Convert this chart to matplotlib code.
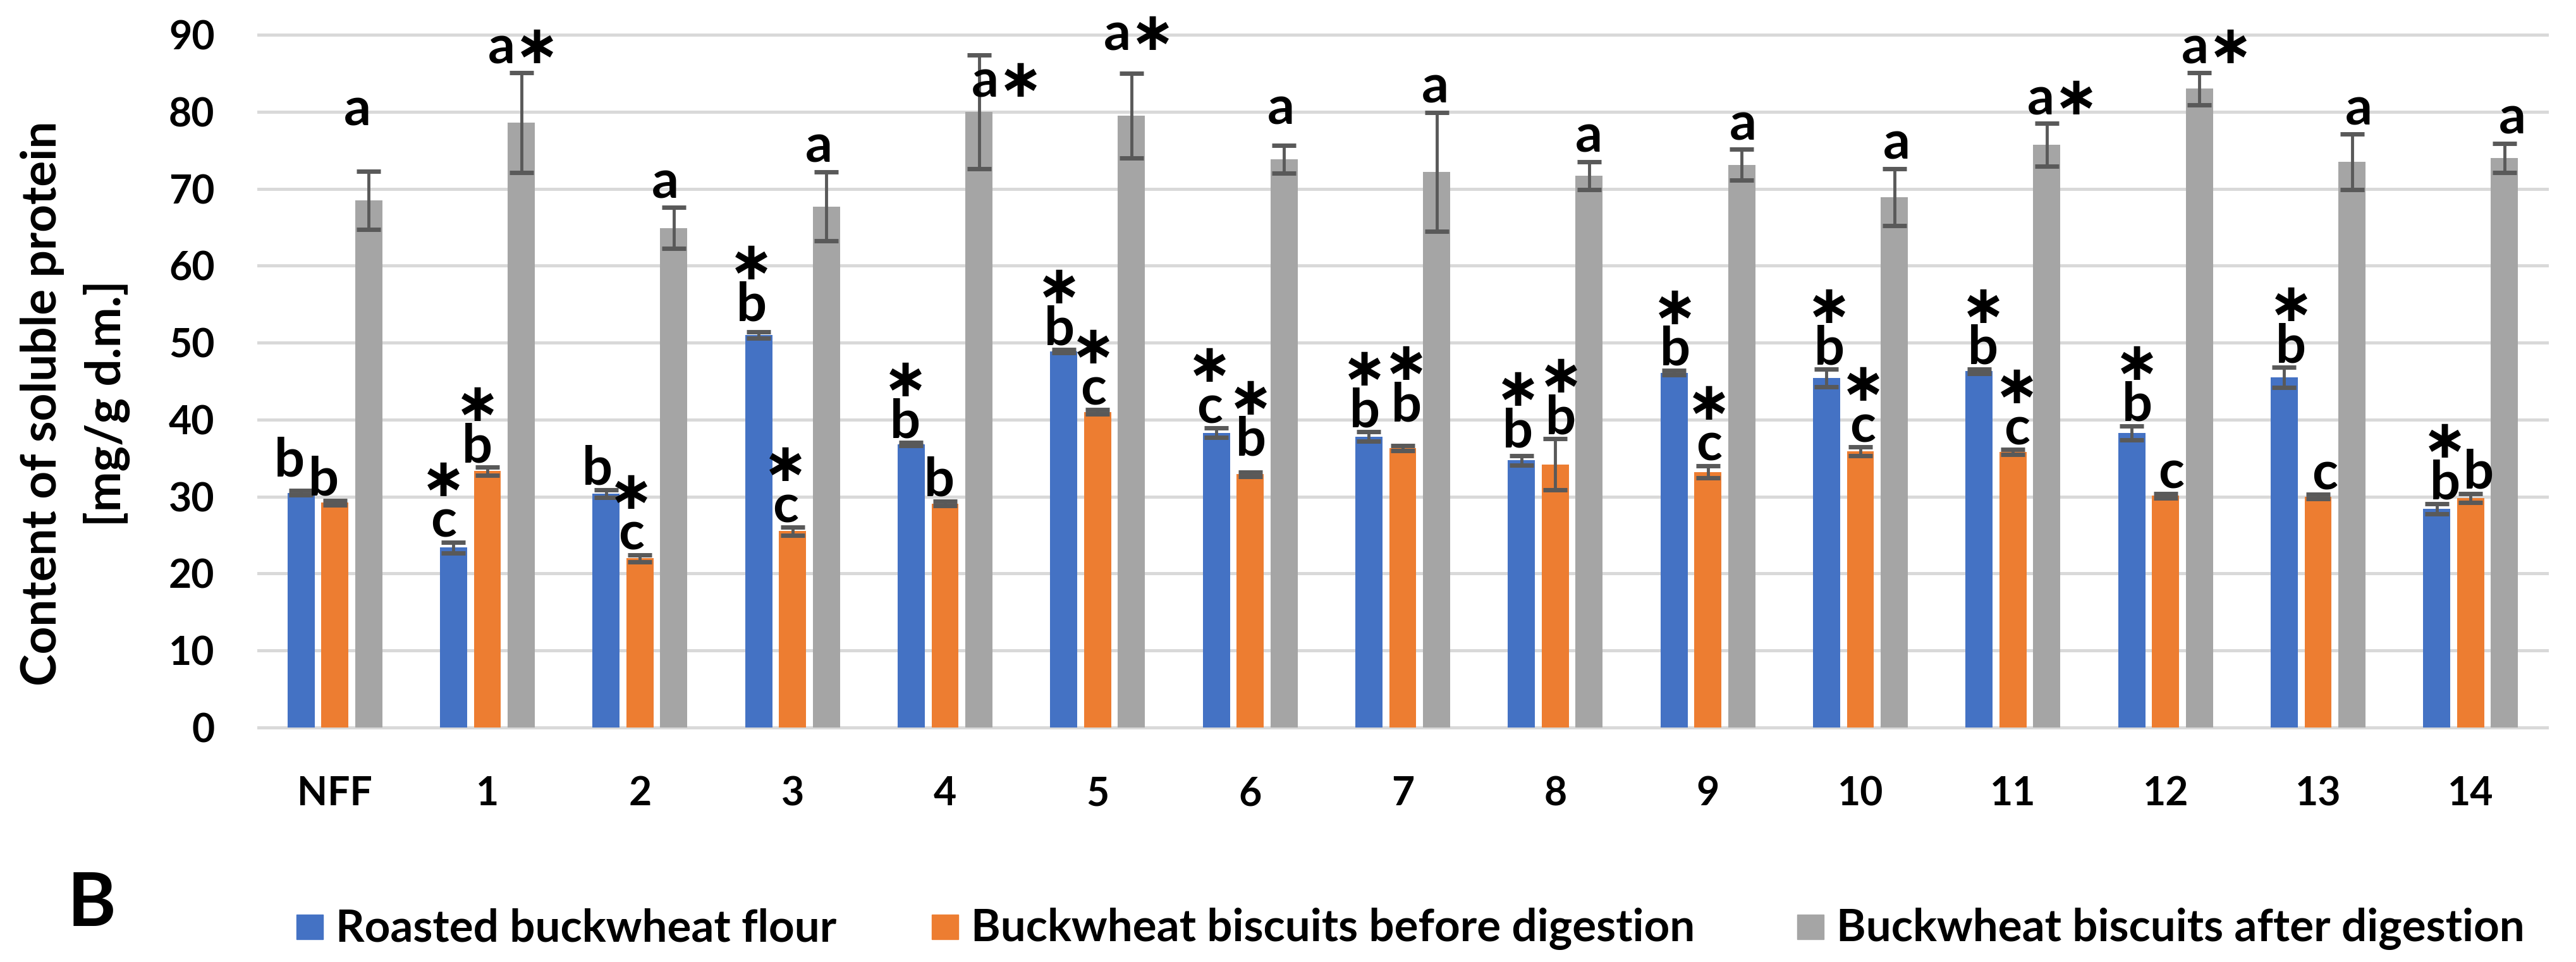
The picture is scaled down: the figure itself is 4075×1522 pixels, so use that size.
import numpy as np
import matplotlib.pyplot as plt
from matplotlib.patches import Rectangle
from matplotlib.font_manager import FontProperties

plt.rcParams['font.family'] = ['Lato', 'DejaVu Sans']
plt.rcParams['font.weight'] = 'bold'

groups = ['NFF', '1', '2', '3', '4', '5', '6', '7', '8', '9', '10', '11', '12', '13', '14']
series_names = ['Roasted buckwheat flour',
                'Buckwheat biscuits before digestion',
                'Buckwheat biscuits after digestion']

# content of soluble protein [mg/g d.m.], mean and sd
flour = [30.5, 23.4, 30.4, 51.0, 36.8, 48.9, 38.3, 37.8, 34.7, 46.1, 45.4, 46.3, 38.3, 45.5, 28.4]
flour_sd = [0.3, 0.7, 0.5, 0.4, 0.2, 0.2, 0.6, 0.6, 0.6, 0.3, 1.15, 0.3, 0.9, 1.3, 0.65]
before = [29.2, 33.3, 22.0, 25.5, 29.1, 41.0, 32.9, 36.3, 34.2, 33.2, 35.9, 35.8, 30.1, 30.0, 29.8]
before_sd = [0.3, 0.5, 0.45, 0.5, 0.3, 0.3, 0.3, 0.3, 3.3, 0.8, 0.55, 0.3, 0.3, 0.3, 0.6]
after = [68.5, 78.6, 64.9, 67.7, 80.0, 79.5, 73.8, 72.2, 71.7, 73.1, 68.9, 75.7, 83.0, 73.5, 74.0]
after_sd = [3.8, 6.5, 2.65, 4.5, 7.4, 5.5, 1.8, 7.7, 1.8, 2.0, 3.7, 2.8, 2.1, 3.6, 1.9]

# significance letters, '*' = significant difference
flour_marks = ['b', 'c*', 'b', 'b*', 'b*', 'b*', 'c*', 'b*', 'b*', 'b*', 'b*', 'b*', 'b*', 'b*', 'b*']
before_marks = ['b', 'b*', 'c*', 'c*', 'b', 'c*', 'b*', 'b*', 'b*', 'c*', 'c*', 'c*', 'c', 'c', 'b']
after_marks = ['a', 'a*', 'a', 'a', 'a*', 'a*', 'a', 'a', 'a', 'a', 'a', 'a*', 'a*', 'a', 'a']

colors = ['#4472C4', '#ED7D31', '#A5A5A5']

W, H = 4075, 1522
fig = plt.figure(figsize=(W / 100, H / 100), dpi=100)
ax = fig.add_axes([409 / W, 1 - 1151 / H, (4029 - 409) / W, (1151 - 55) / H])

x = np.arange(len(groups))
offsets = [-0.222, 0.0, 0.222]
width = 0.178
all_vals = [flour, before, after]
all_sd = [flour_sd, before_sd, after_sd]
all_marks = [flour_marks, before_marks, after_marks]

for k in range(3):
    ax.bar(x + offsets[k], all_vals[k], width, color=colors[k], zorder=2)
    ax.errorbar(x + offsets[k], all_vals[k], yerr=all_sd[k], fmt='none',
                ecolor='#595959', elinewidth=3.5, capsize=13.7, capthick=5, zorder=3)

# --- significance labels: letter with the star stacked on top (or beside it) ---
STAR = '\u2217'
mark_size = 61
fp = FontProperties(family=['Lato', 'DejaVu Sans'], weight='bold', size=mark_size)
renderer = fig.canvas.get_renderer()
_, lp_h, lp_d = renderer.get_text_width_height_descent('lp', fp, ismath=False)
_, st_h, st_d = renderer.get_text_width_height_descent(STAR, fp, ismath=False)
star_lo = -st_d
# spacing so that the star bottom sits 65 px above the letter baseline
stack_ls = max(0.05, (65 - star_lo - lp_d) / (lp_h - lp_d))

# hand placed labels in the original: extra lift / shift (px) for a few of them
lift = {(0, 0): 14, (1, 6): 18, (1, 7): 31, (0, 3): 10, (0, 8): 6,
        (2, 0): 57, (2, 5): 22, (2, 6): 19}
shift = {(0, 6): -6, (1, 6): 6, (0, 7): -4, (1, 7): 8, (0, 8): -5, (1, 8): 9}

for k in range(3):
    for i in range(len(groups)):
        mark = all_marks[k][i]
        xb = x[i] + offsets[k]
        top = all_vals[k][i] + all_sd[k][i]
        dx = -18 + 2.2 * i + shift.get((k, i), 0)
        gap = 8 + (7 if k == 2 else 0) + lift.get((k, i), 0)
        if k == 2 and i == 4:
            # label sits beside the error bar, near the bar top
            top = all_vals[k][i]
            dx, gap = 25, 24
        starred = mark.endswith('*')
        if starred and k == 2:
            text, ls, dx = mark[0] + STAR, 1.0, dx + 20
        elif starred:
            text, ls = STAR + '\n' + mark[0], stack_ls
        else:
            text, ls = mark[0], 1.0
        ax.annotate(text, (xb, top), xytext=(dx, gap - lp_d), textcoords='offset pixels',
                    ha='center', va='bottom', linespacing=ls, fontproperties=fp,
                    color='black', zorder=4)

ax.set_xlim(-0.5, len(groups) - 0.5)
ax.set_ylim(0, 90)
ax.set_yticks(np.arange(0, 91, 10))
ax.set_xticks(x, groups)
ax.tick_params(axis='y', length=0, pad=50, labelsize=45)
ax.tick_params(axis='x', length=0, pad=55, labelsize=45)
for lab in ax.get_xticklabels() + ax.get_yticklabels():
    lab.set_fontweight('bold')
ax.set_axisbelow(True)
ax.grid(axis='y', color='#D9D9D9', linewidth=3.6)
for line in ax.get_ygridlines():
    line.set_clip_on(False)
for s in ax.spines.values():
    s.set_visible(False)

fig.text(119 / W, 1 - 638 / H, 'Content of soluble protein\n[mg/g d.m.]',
         rotation=90, ha='center', va='center', fontsize=55, fontweight='bold',
         linespacing=1.5)

fig.text(107 / W, 1 - 1465 / H, 'B', ha='left', va='baseline', fontsize=84, fontweight='bold')

# legend row
patch_x = [469, 1474, 2843]
for k in range(3):
    fig.add_artist(Rectangle((patch_x[k] / W, 1 - 1486 / H), 42 / W, 39 / H,
                             transform=fig.transFigure, color=colors[k]))
    fig.text((patch_x[k] + 62) / W, 1 - 1489 / H, series_names[k],
             ha='left', va='baseline', fontsize=51, fontweight='bold')

fig.savefig('out.png', dpi=100)
